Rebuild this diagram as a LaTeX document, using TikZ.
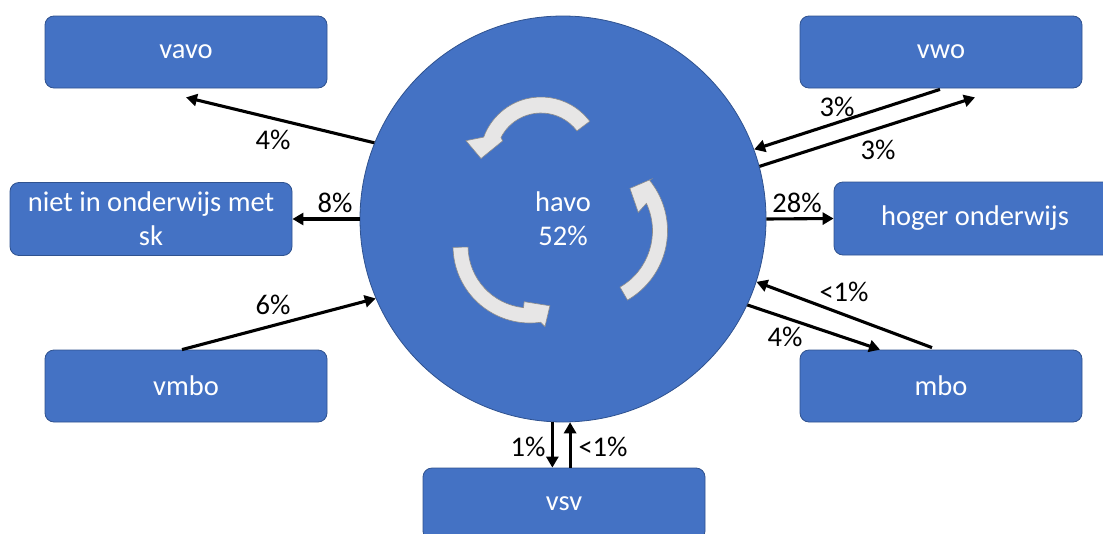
\documentclass[tikz,border=0pt]{standalone}
\usepackage{fontspec}
\setmainfont{Carlito}
\usetikzlibrary{arrows.meta}
\definecolor{boxblue}{HTML}{4472C4}
\definecolor{boxedge}{HTML}{2F528F}
\definecolor{cycgrey}{HTML}{E7E6E6}
\begin{document}
\begin{tikzpicture}[x=1pt,y=1pt,
  txt/.style={font=\fontsize{28.5pt}{34pt}\selectfont},
  box/.style={txt, draw=boxedge, line width=0.8pt, fill=boxblue, text=white,
    rounded corners=9pt, minimum width=282pt, minimum height=72pt, inner sep=0pt, align=center},
  lbl/.style={txt, inner sep=0pt, text=black},
  arr/.style={line width=3.1pt, -{Triangle[length=11pt,width=12pt]}},
  cyc/.style={fill=cycgrey, draw=black!45, line width=0.6pt}]
\useasboundingbox (0,0) rectangle (1103,-533);
\clip (0,0) rectangle (1103,-533);
% central circle
\node[txt, circle, minimum size=406pt, inner sep=0pt, fill=boxblue, draw=boxedge, line width=0.8pt,
  text=white, align=center] (havo) at (563,-219) {havo\\52\%};
% boxes
\node[box] (vavo)  at (186,-52) {vavo};
\node[box] (vwo)   at (941,-52) {vwo};
\node[box, minimum height=73pt] (niet) at (151,-219) {niet in onderwijs met\\sk};
\node[box, minimum height=73pt] (hoger) at (975,-218.5) {hoger onderwijs};
\node[box] (vmbo)  at (186,-386) {vmbo};
\node[box] (mbo)   at (941,-386) {mbo};
\node[box] (vsv)   at (564,-504) {vsv};
% cycle arrows
\filldraw[cyc, shift={(541,-158)}] (37:45pt) -- (37:61pt)
  arc[start angle=37, end angle=160, radius=61pt] -- (167:77pt) -- (180.5:60pt)
  -- (156:42pt) -- (153:45pt) arc[start angle=153, end angle=37, radius=45pt] -- cycle;
\filldraw[cyc, shift={(530,-246)}] (181:62pt) -- (181:77pt)
  arc[start angle=181, end angle=278, radius=77pt] -- (280.5:82pt) -- (288.4:63pt)
  -- (264:56pt) -- (264:62pt) arc[start angle=264, end angle=181, radius=62pt] -- cycle;
\filldraw[cyc, shift={(587.5,-230.8)}] (-60:65pt) -- (-60:80pt)
  arc[start angle=-60, end angle=39, radius=80pt] -- (39:82pt) -- (45:60pt)
  -- (20:54pt) -- (25:65pt) arc[start angle=25, end angle=-60, radius=65pt] -- cycle;
% connectors
\draw[arr] (havo.158) -- ([yshift=-9pt]vavo.south);
\draw[arr] (havo.west) -- (niet.east);
\draw[arr] ([xshift=-4pt]vmbo.north) -- (havo.203);
\draw[arr] ([xshift=-1pt,yshift=-1pt]vwo.south) -- (havo.20);
\draw[arr] (havo.15) -- ([xshift=34pt,yshift=-9pt]vwo.south);
\draw[arr] (havo.east) -- (hoger.west);
\draw[arr] ([xshift=-9pt,yshift=2pt]mbo.north) -- (havo.-18);
\draw[arr] (havo.-25) -- ([xshift=-61pt]mbo.north);
\draw[arr] (havo.-93) -- (havo.-93 |- vsv.north);
\draw[arr] (havo.-88.3 |- vsv.north) -- (havo.-88.3);
% labels
\node[lbl] (l4a) at (273,-140) {4\%};
\node[lbl] (l8)  at (335,-203) {8\%};
\node[lbl] (l6)  at (273,-305) {6\%};
\node[lbl] (l3a) at (837,-107) {3\%};
\node[lbl] (l3b) at (878,-150) {3\%};
\node[lbl] (l28) at (797,-203) {28\%};
\node[lbl] (l1m) at (844,-292) {<1\%};
\node[lbl] (l4m) at (785,-337) {4\%};
\node[lbl] (l1v) at (528,-447) {1\%};
\node[lbl] (l1w) at (603,-447) {<1\%};
\end{tikzpicture}
\end{document}
